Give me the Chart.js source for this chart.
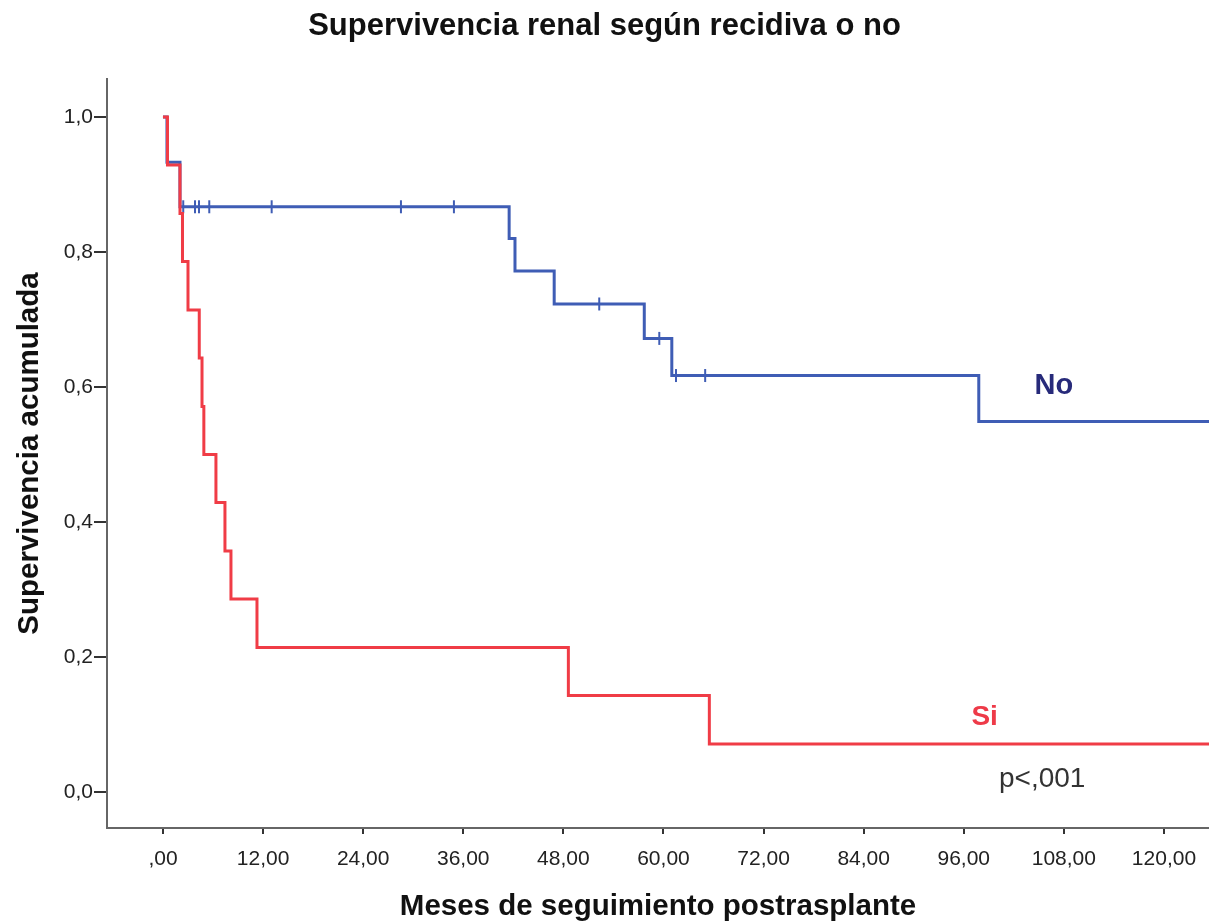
<!DOCTYPE html>
<html><head><meta charset="utf-8">
<script src="https://cdn.jsdelivr.net/npm/chart.js@4.4.1/dist/chart.umd.min.js"></script>
<style>html,body{margin:0;padding:0;background:#fff;overflow:hidden}</style>
</head><body>
<canvas id="c" width="1209" height="922"></canvas>
<script>
// ---- data ----
const siTimes = [0, 0.54, 2.04, 2.34, 3.0, 4.35, 4.68, 4.9, 6.35, 7.43, 8.15, 11.27, 48.6, 65.5, 126];
const siSurv  = [1, 0.929, 0.857, 0.786, 0.714, 0.643, 0.571, 0.5, 0.429, 0.357, 0.286, 0.214, 0.143, 0.071, 0.071];
const noTimes = [0, 0.48, 2.04, 41.5, 42.2, 46.9, 57.7, 61.0, 97.8, 126];
const noSurv  = [1, 0.933, 0.867, 0.820, 0.772, 0.723, 0.672, 0.617, 0.549, 0.549];
const noCensTimes = [2.43, 3.84, 4.32, 5.55, 13.03, 28.53, 34.88, 52.3, 59.5, 61.5, 65.0];
const noCensSurv  = [0.867, 0.867, 0.867, 0.867, 0.867, 0.867, 0.867, 0.723, 0.672, 0.617, 0.617];
const xTicks = [0, 12, 24, 36, 48, 60, 72, 84, 96, 108, 120];
const yTicks = [0, 0.2, 0.4, 0.6, 0.8, 1.0];
const groupNames = ['No', 'Si'];
const pValueText = 'p<,001';
const titleText = 'Supervivencia renal según recidiva o no';
const xTitle = 'Meses de seguimiento postrasplante';
const yTitle = 'Supervivencia acumulada';

// ---- annotation anchors (data coordinates) and styles ----
const annot = [
  {text: groupNames[0], t: 106.8, s: 0.601, color: '#272a7a', font: 'bold 29px "Liberation Sans"'},
  {text: groupNames[1], t: 98.5, s: 0.110, color: '#ee3a48', font: 'bold 28px "Liberation Sans"'},
  {text: pValueText, t: 105.4, s: 0.0185, color: '#333333', font: '28px "Liberation Sans"'}
];

const BLUE = '#3f5db5', RED = '#f03c46', FONT = 'Liberation Sans';
const pts = (xs, ys) => xs.map((x, i) => ({x, y: ys[i]}));

const annotPlugin = {
  id: 'annot',
  afterDatasetsDraw(chart) {
    const {ctx, scales: {x, y}} = chart;
    ctx.save();
    ctx.textAlign = 'center';
    ctx.textBaseline = 'middle';
    annot.forEach(a => {
      ctx.font = a.font;
      ctx.fillStyle = a.color;
      ctx.fillText(a.text, x.getPixelForValue(a.t), y.getPixelForValue(a.s));
    });
    ctx.restore();
  }
};

new Chart(document.getElementById('c'), {
  type: 'line',
  data: {
    datasets: [
      {label: groupNames[1], data: pts(siTimes, siSurv), stepped: 'before', borderColor: RED, borderWidth: 3,
       pointRadius: 0, fill: false, order: 0},
      {label: groupNames[0], data: pts(noTimes, noSurv), stepped: 'before', borderColor: BLUE, borderWidth: 3,
       pointRadius: 0, fill: false, order: 1},
      {label: groupNames[0] + ' censurado', type: 'scatter', data: pts(noCensTimes, noCensSurv), showLine: false,
       pointStyle: 'line', pointRotation: 90, pointRadius: 6.5, pointBorderWidth: 2,
       pointBorderColor: BLUE, pointBackgroundColor: BLUE, order: 2}
    ]
  },
  options: {
    responsive: false,
    animation: false,
    devicePixelRatio: 1,
    layout: {padding: 0, autoPadding: false},
    plugins: {
      legend: {display: false},
      tooltip: {enabled: false},
      title: {display: true, text: titleText, color: '#111',
        font: {family: FONT, size: 31, weight: 'bold', lineHeight: 1.2},
        padding: {top: 7.4, bottom: 34.4}}
    },
    scales: {
      x: {
        type: 'linear', min: -6.71, max: 125.4,
        afterFit: s => { s.height = 94; s.paddingLeft = 0; s.paddingRight = 0; },
        afterBuildTicks: s => { s.ticks = xTicks.map(v => ({value: v})); },
        border: {display: true, color: '#666', width: 2},
        grid: {drawOnChartArea: false, drawTicks: true, tickLength: 6, tickColor: '#333', lineWidth: 2},
        ticks: {color: '#222', padding: 13, maxRotation: 0, autoSkip: false,
          font: {family: FONT, size: 21},
          callback: v => v === 0 ? ',00' : v.toFixed(2).replace('.', ',')},
        title: {display: true, text: xTitle, color: '#111',
          font: {family: FONT, size: 29.5, weight: 'bold', lineHeight: 1.0},
          padding: {top: 0, bottom: 0}}
      },
      y: {
        type: 'linear', min: -0.0533, max: 1.0563,
        afterFit: s => { s.width = 107; s.paddingTop = 0; s.paddingBottom = 0; },
        afterBuildTicks: s => { s.ticks = yTicks.map(v => ({value: v})); },
        border: {display: true, color: '#666', width: 2},
        grid: {drawOnChartArea: false, drawTicks: true, tickLength: 13, tickColor: '#333', lineWidth: 2},
        ticks: {color: '#222', padding: 1, autoSkip: false,
          font: {family: FONT, size: 21},
          callback: v => v.toFixed(1).replace('.', ',')},
        title: {display: true, text: yTitle, color: '#111',
          font: {family: FONT, size: 29.5, weight: 'bold', lineHeight: 1.2},
          padding: {top: 12, bottom: 0}}
      }
    }
  },
  plugins: [annotPlugin]
});
</script>
</body></html>
